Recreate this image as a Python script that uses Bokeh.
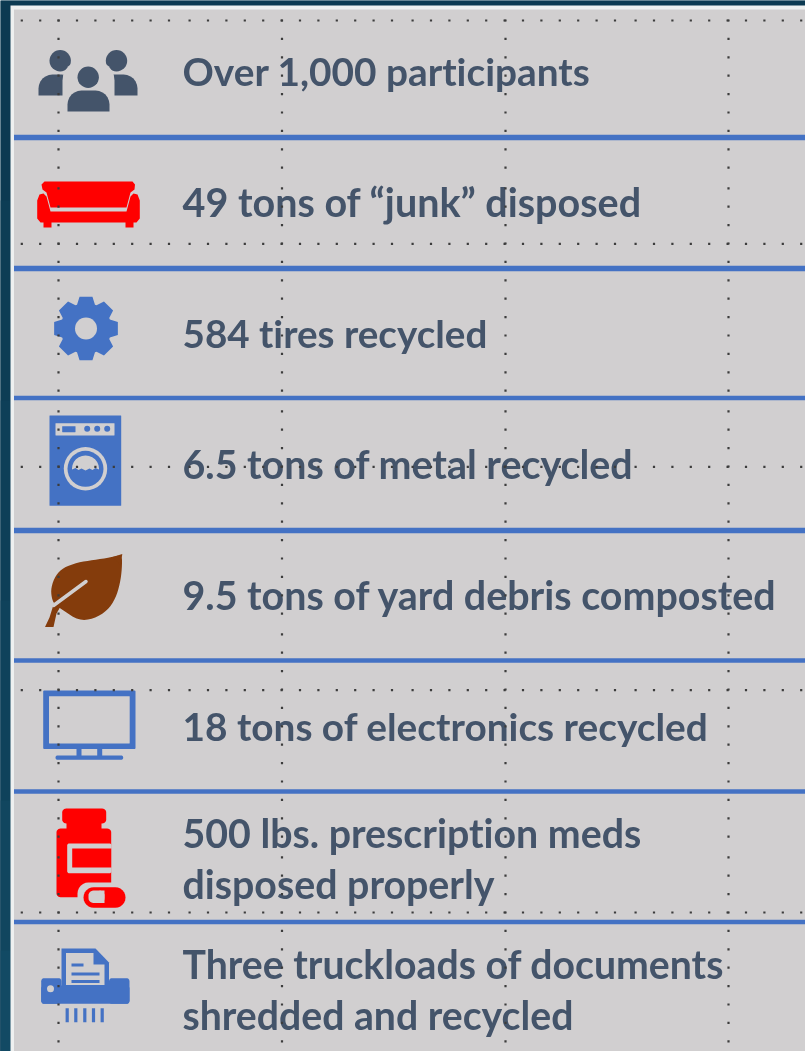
import math
from bokeh.plotting import figure
from bokeh.models import Range1d
from bokeh.core.properties import value
from bokeh.embed import file_html
from bokeh.resources import INLINE

# ---- content ----
LABELS = [
    ["Over 1,000 participants"],
    ["49 tons of \u201cjunk\u201d disposed"],
    ["584 tires recycled"],
    ["6.5 tons of metal recycled"],
    ["9.5 tons of yard debris composted"],
    ["18 tons of electronics recycled"],
    ["500 lbs. prescription meds", "disposed properly"],
    ["Three truckloads of documents", "shredded and recycled"],
]
CENTERS = [[70], [201], [332], [463], [594], [725], [832, 883], [963, 1014]]
SIZES = ["38.8px", "39.5px", "38.6px", "39.4px", "39.4px", "38.8px", "39.3px", "39.2px"]
RULES_Y = [137, 268, 397.5, 530, 660, 791, 921.5]
RULES_W = [5.5, 5.5, 4.5, 5.5, 4.5, 4.5, 4.5]
GRID_X = [58, 281.5, 505, 728]
GRID_Y = [20, 243.3, 466.3, 689.7, 912]

W, H = 805, 1051
PANEL = "#d1cfd0"
BLUE = "#4472c4"
SLATE = "#44546a"
RED = "#ff0000"
BROWN = "#843c0c"

p = figure(width=W, height=H, x_range=Range1d(0, W), y_range=Range1d(H, 0),
           output_backend="svg", toolbar_location=None, min_border=0,
           outline_line_color=None, background_fill_color="#0f4058",
           border_fill_color="#0f4058")
p.axis.visible = False
p.grid.visible = False
p.styles = {"position": "fixed", "left": "0", "top": "0", "filter": "blur(0.7px)",
            "font-variant-ligatures": "none"}


def rrect(x0, y0, x1, y1, r):
    xs, ys = [], []
    for cx, cy, a0 in [(x1 - r, y0 + r, -90), (x1 - r, y1 - r, 0), (x0 + r, y1 - r, 90), (x0 + r, y0 + r, 180)]:
        for k in range(7):
            a = math.radians(a0 + 15 * k)
            xs.append(cx + r * math.cos(a))
            ys.append(cy + r * math.sin(a))
    return xs, ys


def rr(x0, y0, x1, y1, r, c):
    xs, ys = rrect(x0, y0, x1, y1, r)
    p.patch(xs, ys, color=c, line_width=0)


def disc(x, y, r, c):
    p.ellipse([x], [y], width=2 * r, height=2 * r, color=c, line_width=0)


def poly(pts, c):
    p.patch([a for a, _ in pts], [b for _, b in pts], color=c, line_width=0)


def smooth(pts, n=3):
    for _ in range(n):
        out = []
        for i, (a, b) in enumerate(pts):
            c, d = pts[(i + 1) % len(pts)]
            out += [(0.75 * a + 0.25 * c, 0.75 * b + 0.25 * d), (0.25 * a + 0.75 * c, 0.25 * b + 0.75 * d)]
        pts = out
    return pts


def dots(start, end):
    out, pos, k = [], start, 0
    while pos <= end:
        out.append(pos)
        pos += 20.6 if k % 12 == 8 else 18.4
        k += 1
    return out


# backdrop
for y0, c in [(0, "#0c3a52"), (200, "#0d3d55"), (400, "#0e3f58"), (600, "#0f425b"), (800, "#11465f"), (950, "#124a64")]:
    p.quad(left=[0], right=[W], top=[y0], bottom=[H], color=c, line_width=0)
p.quad(left=[10], right=[W], top=[5], bottom=[H], color="#eef0f0", line_width=0)
p.quad(left=[13.5], right=[W], top=[9], bottom=[H], color=PANEL, line_width=0)

# rules
p.segment(x0=[13.5] * 7, x1=[W] * 7, y0=RULES_Y, y1=RULES_Y, line_color=BLUE, line_width=RULES_W)

# people
for hx, hy, x0, x1, y0, y1, in [(59.7, 60.3, 38, 75, 74, 95), (116, 60.3, 100, 137, 74, 95), (87.7, 76.7, 67, 109, 90, 111)]:
    if hx == 87.7:
        rr(62, 60, 114, 115, 20, PANEL)
    disc(hx, hy, 10.7, SLATE)
    xs, ys = rrect(x0, y0, x1, y1 + 14, 14)
    ys = [min(v, y1) for v in ys]
    p.patch(xs, ys, color=SLATE, line_width=0)

# sofa
poly([(44, 181), (132, 181), (134.5, 184), (134, 189), (130, 192), (126, 207), (50, 207), (46, 192), (42, 189), (41, 184)], RED)
poly([(36.7, 200), (39, 194), (43, 193), (46, 196), (50, 211), (126, 211), (130, 196), (133, 193), (137, 194), (139.3, 200),
      (139.3, 218), (136, 222), (133, 222), (133, 227), (125, 227), (125, 222), (51, 222), (51, 227), (43, 227), (43, 222), (40, 222), (36.7, 218)], RED)

# gear
cx, cy = 85.5, 328
pts = []
for t in range(8):
    a = t * math.pi / 4 - math.pi / 2
    for da, r in [(-0.36, 25.5), (-0.2, 32.5), (0.2, 32.5), (0.36, 25.5)]:
        pts.append((cx + r * math.cos(a + da), cy + r * math.sin(a + da)))
poly(pts, BLUE)
disc(cx, cy, 11, PANEL)

# washer
rr(49, 415, 120.7, 505.3, 0.5, BLUE)
rr(55, 422.7, 114, 435, 0.5, PANEL)
rr(61.7, 425.7, 75, 431.7, 0.5, BLUE)
for dx in (86.7, 96.7, 106.7):
    disc(dx, 428.3, 3, BLUE)
disc(85, 468.3, 21.7, PANEL)
disc(85, 468.3, 18, BLUE)
wave = [(71.5, 469), (75, 467.5), (78, 469.5), (81, 468), (85, 470), (89, 468), (92, 469.5), (95, 467.5), (98.5, 469)]
dome = [(85 + 13.5 * math.cos(math.pi * (1 + k / 12)), 468 + 13 * math.sin(math.pi * (1 + k / 12))) for k in range(13)]
poly(dome + wave[::-1], PANEL)

# leaf
leaf = [(121.5, 554), (110, 557), (93, 559.5), (77, 562), (63, 567), (55, 575), (50.5, 587), (51, 597), (54, 604),
        (63, 610), (78, 620), (93, 618.5), (107, 610), (115, 598), (119.5, 583), (121.5, 568)]
poly(smooth(leaf, 2) + [], BROWN)
poly([(121.8, 553.5), (112, 556.5), (120, 565)], BROWN)
poly([(54, 601), (60, 606), (56, 613), (53, 626.5), (44.5, 626.5), (49, 617)], BROWN)
p.line([53, 85.5], [605, 581], line_color=PANEL, line_width=3.5, line_cap="round")

# monitor
rr(42.7, 690, 135, 748.5, 1, BLUE)
rr(48.5, 695.7, 129.2, 743, 0.5, PANEL)
rr(76, 748, 81, 757, 0, BLUE)
rr(96.7, 748, 101.7, 757, 0, BLUE)
rr(55, 755, 122.7, 759.3, 2, BLUE)

# pills
rr(61.7, 808, 105.7, 823, 4, RED)
rr(66, 820, 101, 830, 0, RED)
rr(56, 828, 110.7, 896.7, 4, RED)
rr(66.7, 843, 111, 872.7, 2, PANEL)
rr(71.7, 848, 110.7, 867, 0, RED)
rr(77, 882, 130, 912, 11, PANEL)
rr(83, 886.7, 125, 907.3, 10.3, RED)
rr(88, 890, 104, 902.5, 5, PANEL)
rr(99, 890, 104, 902.5, 0, PANEL)

# shredder
poly([(61, 948), (95, 948), (108.5, 962), (108.5, 990), (61, 990)], BLUE)
poly([(65.5, 952.5), (93, 952.5), (93, 964), (104, 964), (104, 984.5), (65.5, 984.5)], PANEL)
rr(71, 963, 83, 966, 0, BLUE)
rr(71, 972, 99, 975, 0, BLUE)
rr(71, 979.5, 99, 982.5, 0, BLUE)
rr(40.7, 977.7, 61, 1003.3, 3, BLUE)
rr(40.7, 985, 129, 1003.3, 3, BLUE)
rr(108.5, 977.7, 129, 1003.3, 3, BLUE)
disc(50, 988.3, 3.5, PANEL)
for bx in (66.7, 75.3, 84.3, 93, 101.7):
    rr(bx - 1.6, 1007.7, bx + 1.6, 1021.7, 0, BLUE)

# texts
for lines, ys, sz in zip(LABELS, CENTERS, SIZES):
    p.text(x=[182] * len(lines), y=ys, text=lines, text_color=SLATE, text_font=value("Lato"),
           text_font_size=sz, text_font_style="bold", text_baseline="middle", text_align="left")

# dotted grid, on top of everything
for gy in GRID_Y:
    xs = dots(21.3, W)
    p.scatter(xs, [gy] * len(xs), marker="square", size=2.2, color="#3c3c3c", line_width=0)
for gx in GRID_X:
    ys = dots(20, H)
    p.scatter([gx] * len(ys), ys, marker="square", size=2.2, color="#3c3c3c", line_width=0)

open("out.html", "w").write(file_html(p, INLINE))
